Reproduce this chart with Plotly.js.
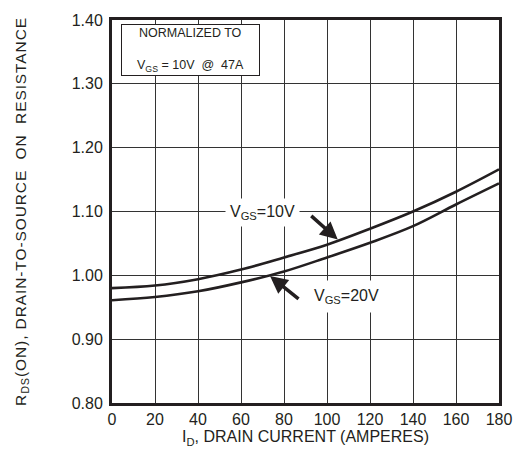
<!DOCTYPE html>
<html>
<head>
<meta charset="utf-8">
<script src="https://cdn.plot.ly/plotly-3.0.1.min.js"></script>
<style>
html,body{margin:0;padding:0;background:#fff;}
#chart{width:513px;height:450px;}
.ytitle{letter-spacing:0.9px;}
</style>
</head>
<body>
<div id="chart"></div>
<script>
const drainCurrent = [0, 20, 40, 60, 80, 100, 120, 140, 160, 180];
const rdsVgs10 = [0.980, 0.984, 0.994, 1.009, 1.028, 1.048, 1.073, 1.100, 1.131, 1.166];
const rdsVgs20 = [0.961, 0.966, 0.975, 0.989, 1.006, 1.028, 1.051, 1.077, 1.111, 1.144];
const xTicks = [0, 20, 40, 60, 80, 100, 120, 140, 160, 180];
const yTicks = [0.80, 0.90, 1.00, 1.10, 1.20, 1.30, 1.40];
const yTickLabels = ['0.80', '0.90', '1.00', '1.10', '1.20', '1.30', '1.40'];

const ink = '#231f20';
const font = 'Liberation Sans, Arial, sans-serif';

const traces = [
  {x: drainCurrent, y: rdsVgs10, mode: 'lines', line: {color: ink, width: 2.6, shape: 'spline'}, hoverinfo: 'skip'},
  {x: drainCurrent, y: rdsVgs20, mode: 'lines', line: {color: ink, width: 2.6, shape: 'spline'}, hoverinfo: 'skip'}
];

const layout = {
  width: 513, height: 450,
  margin: {l: 112, r: 14, t: 20, b: 47},
  paper_bgcolor: '#fff', plot_bgcolor: '#fff',
  showlegend: false,
  font: {family: font, color: ink, size: 15},
  xaxis: {
    range: [0, 180], tickvals: xTicks, ticktext: xTicks.map(String),
    showgrid: true, gridcolor: '#333', gridwidth: 1,
    showline: true, linecolor: ink, linewidth: 3, mirror: true,
    zeroline: false, ticks: '',
    tickfont: {size: 16, family: font, color: ink},
    title: {text: 'I<sub>D</sub>, DRAIN CURRENT (AMPERES)', font: {size: 16, family: font, color: ink}, standoff: 4}
  },
  yaxis: {
    range: [0.80, 1.40], tickvals: yTicks, ticktext: yTickLabels,
    showgrid: true, gridcolor: '#333', gridwidth: 1,
    showline: true, linecolor: ink, linewidth: 3, mirror: true,
    zeroline: false, ticks: '', ticklabelstandoff: 3,
    tickfont: {size: 16, family: font, color: ink},
    title: {text: 'R<sub>DS</sub>(ON), DRAIN-TO-SOURCE  ON  RESISTANCE', font: {size: 15.5, family: font, color: ink}, standoff: 42}
  },
  annotations: [
    {x: 36.5, y: 1.353, xref: 'x', yref: 'y', showarrow: false,
     text: 'NORMALIZED TO<br><br>V<sub>GS</sub> = 10V  @  47A',
     font: {size: 12.5, family: font, color: ink},
     bgcolor: '#fff', bordercolor: ink, borderwidth: 1, width: 135, height: 48, align: 'center'},
    {x: 70, y: 1.098, xref: 'x', yref: 'y', showarrow: false,
     text: 'V<sub>GS</sub>=10V', font: {size: 16, family: font, color: ink},
     bgcolor: '#fff', borderpad: 4},
    {x: 109, y: 0.967, xref: 'x', yref: 'y', showarrow: false,
     text: 'V<sub>GS</sub>=20V', font: {size: 16, family: font, color: ink},
     bgcolor: '#fff', borderpad: 6},
    {x: 105, y: 1.056, xref: 'x', yref: 'y', showarrow: true, text: '',
     ax: -28, ay: -25, arrowhead: 2, arrowsize: 1, arrowwidth: 3.5, arrowcolor: ink},
    {x: 73.5, y: 0.999, xref: 'x', yref: 'y', showarrow: true, text: '',
     ax: 30, ay: 24, arrowhead: 2, arrowsize: 1, arrowwidth: 3.5, arrowcolor: ink}
  ]
};

Plotly.newPlot('chart', traces, layout, {displayModeBar: false, staticPlot: true});
</script>
</body>
</html>
